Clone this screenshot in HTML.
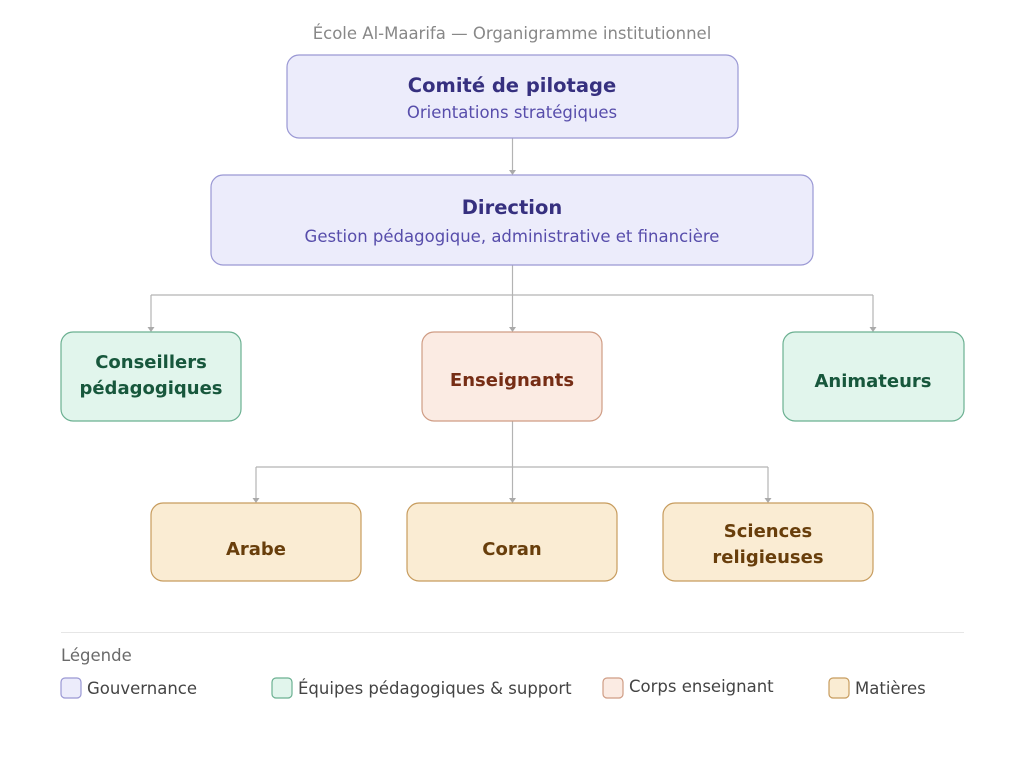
<!DOCTYPE html>
<html><head><meta charset="utf-8"><style>
html,body{margin:0;padding:0;background:#fff;}
svg{display:block;font-family:"DejaVu Sans","Liberation Sans",sans-serif;}
</style></head><body>
<svg width="1024" height="783" viewBox="0 0 1024 783" xmlns="http://www.w3.org/2000/svg">
<text x="512" y="39" text-anchor="middle" font-size="16.5" fill="#888">École Al-Maarifa — Organigramme institutionnel</text>
<g stroke="#b3b3b3" stroke-width="1.2" fill="none">
<path d="M512.5 138 V172"/>
<path d="M512.5 265 V328"/>
<path d="M151 295 H873"/>
<path d="M151 295 V328"/>
<path d="M873 295 V328"/>
<path d="M512.5 421 V499"/>
<path d="M256 467 H768"/>
<path d="M256 467 V499"/>
<path d="M768 467 V499"/>
</g>
<g fill="#aaa">
<path d="M509 170 h7 l-3.5 5 z"/>
<path d="M509 327 h7 l-3.5 5 z"/>
<path d="M147.5 327 h7 l-3.5 5 z"/>
<path d="M869.5 327 h7 l-3.5 5 z"/>
<path d="M509 498 h7 l-3.5 5 z"/>
<path d="M252.5 498 h7 l-3.5 5 z"/>
<path d="M764.5 498 h7 l-3.5 5 z"/>
</g>
<rect x="287" y="55" width="451" height="83" rx="12" fill="#ececfb" stroke="#9a98d4" stroke-width="1.2"/>
<text x="512" y="92" text-anchor="middle" font-size="19.5" font-weight="bold" fill="#36307f">Comité de pilotage</text>
<text x="512" y="118" text-anchor="middle" font-size="16.5" fill="#574dab">Orientations stratégiques</text>
<rect x="211" y="175" width="602" height="90" rx="12" fill="#ececfb" stroke="#9a98d4" stroke-width="1.2"/>
<text x="512" y="214" text-anchor="middle" font-size="19.5" font-weight="bold" fill="#36307f">Direction</text>
<text x="512" y="242" text-anchor="middle" font-size="16.5" fill="#574dab">Gestion pédagogique, administrative et financière</text>
<rect x="61" y="332" width="180" height="89" rx="12" fill="#e1f5ec" stroke="#6bb091" stroke-width="1.2"/>
<text x="151" y="368" text-anchor="middle" font-size="18" font-weight="bold" fill="#17573c">Conseillers</text>
<text x="151" y="394" text-anchor="middle" font-size="18" font-weight="bold" fill="#17573c">pédagogiques</text>
<rect x="422" y="332" width="180" height="89" rx="12" fill="#fbebe3" stroke="#cf9c84" stroke-width="1.2"/>
<text x="512" y="386" text-anchor="middle" font-size="18" font-weight="bold" fill="#762d15">Enseignants</text>
<rect x="783" y="332" width="181" height="89" rx="12" fill="#e1f5ec" stroke="#6bb091" stroke-width="1.2"/>
<text x="873" y="387" text-anchor="middle" font-size="18" font-weight="bold" fill="#17573c">Animateurs</text>
<g fill="#faecd3" stroke="#c79c5e" stroke-width="1.2">
<rect x="151" y="503" width="210" height="78" rx="12"/>
<rect x="407" y="503" width="210" height="78" rx="12"/>
<rect x="663" y="503" width="210" height="78" rx="12"/>
</g>
<g text-anchor="middle" font-size="18" font-weight="bold" fill="#683e0b">
<text x="256" y="555">Arabe</text>
<text x="512" y="555">Coran</text>
<text x="768" y="537">Sciences</text>
<text x="768" y="563">religieuses</text>
</g>
<line x1="61" y1="632.5" x2="964" y2="632.5" stroke="#e6e6e6" stroke-width="1"/>
<text x="61" y="661" font-size="16.5" fill="#6a6a6a">Légende</text>
<g stroke-width="1.2">
<rect x="61" y="678" width="20" height="20" rx="4" fill="#ececfb" stroke="#9a98d4"/>
<rect x="272" y="678" width="20" height="20" rx="4" fill="#e1f5ec" stroke="#6bb091"/>
<rect x="603" y="678" width="20" height="20" rx="4" fill="#fbebe3" stroke="#cf9c84"/>
<rect x="829" y="678" width="20" height="20" rx="4" fill="#faecd3" stroke="#c79c5e"/>
</g>
<g font-size="16.5" fill="#444">
<text x="87" y="694">Gouvernance</text>
<text x="298" y="694">Équipes pédagogiques &amp; support</text>
<text x="629" y="692">Corps enseignant</text>
<text x="855" y="694">Matières</text>
</g>
</svg>
</body></html>
